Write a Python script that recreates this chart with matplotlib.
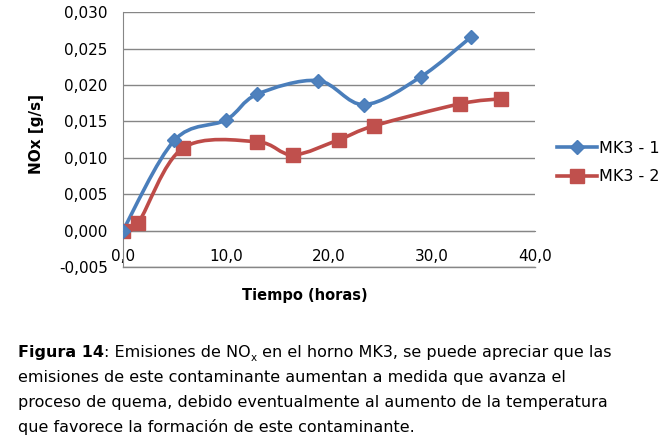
import matplotlib
matplotlib.use('Agg')
import matplotlib.pyplot as plt
import numpy as np
from matplotlib.path import Path
from matplotlib.patches import PathPatch
from matplotlib.lines import Line2D

# --- DATOS ---
x_mk1 = [0.0, 5.0, 10.0, 13.0, 18.9, 23.4, 28.9, 33.8]
y_mk1 = [0.0, 0.0124, 0.0152, 0.0187, 0.0206, 0.0173, 0.0211, 0.0266]
x_mk2 = [0.0, 1.5, 5.8, 13.0, 16.5, 21.0, 24.4, 32.7, 36.7]
y_mk2 = [0.0, 0.0011, 0.0113, 0.0122, 0.0104, 0.0125, 0.0144, 0.0174, 0.0181]
series_names = ['MK3 - 1', 'MK3 - 2']
x_ticks = [0, 10, 20, 30, 40]
y_ticks = [-0.005, 0.0, 0.005, 0.010, 0.015, 0.020, 0.025, 0.030]

blue_line, blue_mk = '#4A7EBB', '#4F81BD'
red_line, red_mk = '#BE4B48', '#C0504D'
grid_col = '#868686'


def smooth_path(xs, ys):
    # Curva suavizada tipo Excel (Bezier Catmull-Rom)
    p = np.column_stack([xs, ys])
    n = len(p)
    verts = [p[0]]
    codes = [Path.MOVETO]
    for i in range(n - 1):
        p0 = p[i - 1] if i > 0 else p[i]
        p3 = p[i + 2] if i + 2 < n else p[i + 1]
        c1 = p[i] + (p[i + 1] - p0) / 6
        c2 = p[i + 1] - (p3 - p[i]) / 6
        verts += [c1, c2, p[i + 1]]
        codes += [Path.CURVE4] * 3
    return Path(verts, codes)


fig = plt.figure(figsize=(6.68, 4.48), dpi=100)
ax = fig.add_axes([0.184, 0.404, 0.617, 0.569])

for xs, ys, lc in [(x_mk2, y_mk2, red_line), (x_mk1, y_mk1, blue_line)]:
    ax.add_patch(PathPatch(smooth_path(xs, ys), fill=False, edgecolor=lc, lw=2.6, zorder=3))

ax.plot(x_mk2, y_mk2, ls='none', marker='s', ms=9.5, color=red_mk, mec=red_mk, zorder=4)
ax.plot(x_mk1, y_mk1, ls='none', marker='D', ms=7.5, color=blue_mk, mec=blue_line, zorder=4)

ax.set_xlim(0, 40)
ax.set_ylim(-0.005, 0.030)
ax.set_xticks(x_ticks)
ax.set_yticks(y_ticks)
ax.set_xticklabels([f'{v:.1f}'.replace('.', ',') for v in x_ticks])
ax.set_yticklabels([f'{v:.3f}'.replace('.', ',') for v in y_ticks])
ax.tick_params(length=0, labelsize=11, colors='black')
ax.tick_params(axis='x', pad=13)
ax.tick_params(axis='y', pad=11)
ax.grid(axis='y', color=grid_col, lw=1)
ax.axhline(-0.005, color=grid_col, lw=1, clip_on=False, zorder=0.5)
ax.set_axisbelow(True)
ax.spines['bottom'].set_position(('data', 0))
ax.spines['bottom'].set_color(grid_col)
ax.spines['left'].set_color(grid_col)
ax.spines['top'].set_visible(False)
ax.spines['right'].set_visible(False)

fig.text(37 / 668, 1 - 134 / 448, 'NOx [g/s]', fontsize=11, fontweight='bold',
         rotation=90, ha='center', va='center')
fig.text(305 / 668, 1 - 295 / 448, 'Tiempo (horas)', fontsize=10.5, fontweight='bold',
         ha='center', va='center')

handles = [Line2D([], [], color=blue_line, lw=2.6, marker='D', ms=7.5, mfc=blue_mk, mec=blue_line),
           Line2D([], [], color=red_line, lw=2.6, marker='s', ms=9.5, mfc=red_mk, mec=red_mk)]
fig.legend(handles, series_names, loc='center left', bbox_to_anchor=(0.834, 0.637),
           frameon=False, fontsize=11.5, handlelength=2.5, handletextpad=0.1,
           labelspacing=0.85, borderpad=0, borderaxespad=0)

# --- LEYENDA DE FIGURA ---
cap_size = 11.5
t1 = fig.text(0.027, 1 - 357 / 448, 'Figura 14', fontsize=cap_size, fontweight='bold',
              va='baseline')
t2 = ax.annotate(': Emisiones de NO', xy=(1, 0), xycoords=t1, va='bottom',
                 fontsize=cap_size, annotation_clip=False)
t3 = ax.annotate('x', xy=(1, 0), xycoords=t2, xytext=(0.3, -2), textcoords='offset points',
                 va='bottom', fontsize=cap_size * 0.65, annotation_clip=False)
ax.annotate(' en el horno MK3, se puede apreciar que las', xy=(1, 0), xycoords=(t3, t2),
            va='bottom', fontsize=cap_size, annotation_clip=False)
lines = ['emisiones de este contaminante aumentan a medida que avanza el',
         'proceso de quema, debido eventualmente al aumento de la temperatura',
         'que favorece la formación de este contaminante.']
for i, line in enumerate(lines):
    fig.text(0.027, 1 - (357 + 25 * (i + 1)) / 448, line, fontsize=cap_size, va='baseline')

fig.savefig('out.png', dpi=100)
